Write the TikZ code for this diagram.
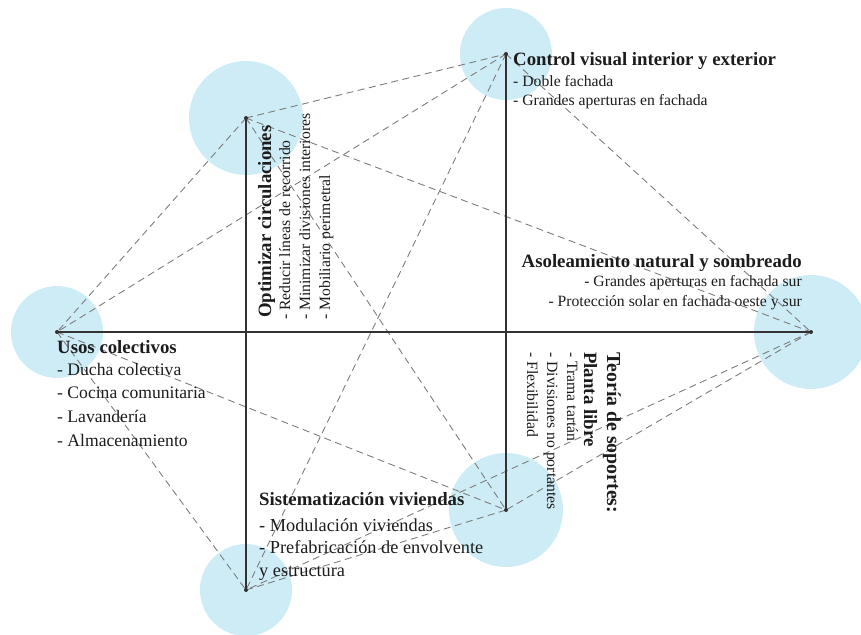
\documentclass[tikz,border=0pt]{standalone}
\usepackage{fontspec}
\setmainfont{Liberation Serif}
\definecolor{bubblefill}{RGB}{205,236,246}
\definecolor{axisgray}{RGB}{50,50,50}
\definecolor{linkgray}{RGB}{125,125,125}
\definecolor{ink}{RGB}{28,28,28}
\begin{document}
\begin{tikzpicture}[x=1pt,y=-1pt,
  bubble/.style={circle, fill=bubblefill, draw=none, inner sep=0pt},
  bigbubble/.style={bubble, minimum size=114pt},
  smallbubble/.style={bubble, minimum size=92pt},
  axisline/.style={draw=axisgray, line width=1.8pt},
  link/.style={draw=linkgray, line width=0.9pt, dash pattern=on 7pt off 4.5pt},
  heading/.style={inner sep=0pt, text=ink, font=\fontsize{18.8}{22}\selectfont\bfseries},
  entry/.style={inner sep=0pt, text=ink, font=\fontsize{15.7}{20}\selectfont},
  midentry/.style={entry, font=\fontsize{17.6}{22}\selectfont},
  bigentry/.style={entry, font=\fontsize{18.3}{22}\selectfont},
]
\useasboundingbox (0,0) rectangle (861,634);

% end points of the three axes
\coordinate (A) at (246,118);
\coordinate (B) at (506,54);
\coordinate (C) at (57,332);
\coordinate (D) at (811,332);
\coordinate (E) at (246,590);
\coordinate (F) at (506,510);

% bubbles around the end points
\node[bigbubble]   (bA) at (A) {};
\node[smallbubble] (bB) at (B) {};
\node[smallbubble] (bC) at (C) {};
\node[bigbubble]   (bD) at (D) {};
\node[smallbubble] (bE) at (E) {};
\node[bigbubble]   (bF) at (F) {};

% dashed links between every pair not joined by an axis
\draw[link] (A) -- (B);
\draw[link] (A) -- (C);
\draw[link] (A) -- (D);
\draw[link] (A) -- (F);
\draw[link] (B) -- (C);
\draw[link] (B) -- (D);
\draw[link] (B) -- (E);
\draw[link] (C) -- (E);
\draw[link] (C) -- (F);
\draw[link] (D) -- (E);
\draw[link] (D) -- (F);
\draw[link] (E) -- (F);

% solid axes
\draw[axisline] (C) -- (D);
\draw[axisline] (A) -- (E);
\draw[axisline] (B) -- (F);
\foreach \p in {A,B,C,D,E,F} \fill[axisgray] (\p) circle[radius=2pt];

% Control visual
\node[heading, anchor=base west] (cv0) at (513,66) {Control visual interior y exterior};
\node[entry, anchor=base west] (cv1) at (513,86) {- Doble fachada};
\node[entry, anchor=base west] (cv2) at (513,105) {- Grandes aperturas en fachada};

% Asoleamiento
\node[heading, anchor=base east] (as0) at (802,267) {Asoleamiento natural y sombreado};
\node[entry, anchor=base east] (as1) at (802,286) {- Grandes aperturas en fachada sur};
\node[entry, anchor=base east] (as2) at (802,306) {- Protección solar en fachada oeste y sur};

% Usos colectivos
\node[heading, anchor=base west] (uc0) at (57,353) {Usos colectivos};
\node[midentry, anchor=base west] (uc1) at (57,375) {- Ducha colectiva};
\node[midentry, anchor=base west] (uc2) at (57,398) {- Cocina comunitaria};
\node[midentry, anchor=base west] (uc3) at (57,422) {- Lavandería};
\node[midentry, anchor=base west] (uc4) at (57,446) {- Almacenamiento};

% Sistematizacion
\node[heading, anchor=base west] (sv0) at (259,505) {Sistematización viviendas};
\node[bigentry, anchor=base west] (sv1) at (259,531) {- Modulación viviendas};
\node[bigentry, anchor=base west] (sv2) at (259,553) {- Prefabricación de envolvente};
\node[bigentry, anchor=base west] (sv3) at (259,576) {y estructura};

% Optimizar circulaciones (reads upward)
\node[heading, anchor=base west, rotate=90] (oc0) at (271,318) {Optimizar circulaciones};
\node[entry, anchor=base west, rotate=90] (oc1) at (290,320) {- Reducir líneas de recorrido};
\node[entry, anchor=base west, rotate=90] (oc2) at (310,320) {- Minimizar divisiones interiores};
\node[entry, anchor=base west, rotate=90] (oc3) at (330,320) {- Mobiliario perimetral};

% Teoria de soportes (reads downward)
\node[heading, anchor=base west, rotate=-90, font=\fontsize{19.8}{22}\selectfont\bfseries] (ts0) at (607,352) {Teoría de soportes:};
\node[heading, anchor=base west, rotate=-90] (ts1) at (584,352) {Planta libre};
\node[entry, anchor=base west, rotate=-90] (ts2) at (567,352) {- Trama tartán};
\node[entry, anchor=base west, rotate=-90] (ts3) at (547,352) {- Divisiones no portantes};
\node[entry, anchor=base west, rotate=-90] (ts4) at (527,352) {- Flexibilidad};
\end{tikzpicture}
\end{document}
